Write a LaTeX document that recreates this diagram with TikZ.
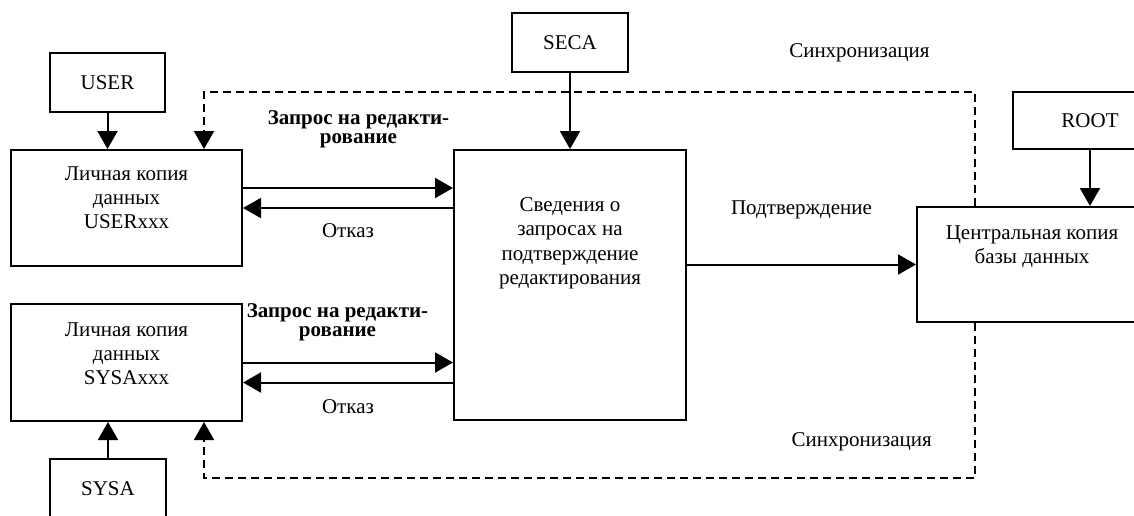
\documentclass[tikz,border=0pt]{standalone}
\usepackage{fontspec}
\setmainfont{Liberation Serif}
\usetikzlibrary{positioning}
\usetikzlibrary{arrows.meta,arrows}

\begin{document}
\begin{tikzpicture}
[x=0.5pt, y=-0.5pt,
box/.style ={rectangle, draw, line width=1pt, inner sep=0pt,
font=\fontsize{10.5}{12.5}\selectfont},
boxtext/.style ={align=center, inner sep=0pt,
font=\fontsize{10.5}{12.2}\selectfont},
lbl/.style ={font=\fontsize{10.5}{12.5}\selectfont},
reqlbl/.style ={align=center, font=\bfseries\fontsize{10.5}{9.5}\selectfont},
line/.style ={draw, line width=1pt, -{Triangle[length=9pt,width=10pt]}},
syncline/.style ={dash pattern=on 4pt off 2.5pt}]
\clip (0,0) rectangle (1134,515);
% small boxes: who works with the data
\node [box, minimum width=57.5pt, minimum height=29.5pt] (user) at (107.5,82.5) {USER};
\node [box, minimum width=58pt, minimum height=29.5pt] (seca) at (570,42.5) {SECA};
\node [box, minimum width=77pt, minimum height=28.5pt] (root) at (1090,120.5) {ROOT};
\node [box, minimum width=58pt, minimum height=29.5pt] (sysa) at (108,488.5) {SYSA};
% big boxes, text sits in the upper part
\node [box, minimum width=115.5pt, minimum height=58pt] (ucopy) at (126.5,208) {};
\node [boxtext, below=8.5pt of ucopy.north] (ucopytxt) {Личная копия\\данных\\USERxxx};
\node [box, minimum width=115.5pt, minimum height=58.5pt] (scopy) at (126.5,362.5) {};
\node [boxtext, below=9.5pt of scopy.north] (scopytxt) {Личная копия\\данных\\SYSAxxx};
\node [box, minimum width=116pt, minimum height=135pt] (req) at (570,285) {};
\node [boxtext, below=24pt of req.north] (reqtxt) {Сведения о\\запросах на\\подтверждение\\редактирования};
\node [box, minimum width=115pt, minimum height=57.5pt] (cdb) at (1032,264.5) {};
\node [boxtext, below=9.5pt of cdb.north] (cdbtxt) {Центральная копия\\базы данных};
% corners of the sync lines
\coordinate (synctopR) at (975,92);
\coordinate (synctopL) at (204,92);
\coordinate (syncbotR) at (975,478);
\coordinate (syncbotL) at (204,478);
\coordinate (ureq) at ([yshift=10pt]ucopy.east);
\coordinate (sref) at ([yshift=-10pt]scopy.east);
\begin{scope}[every path/.style=line]
\path (user) -- (user |- ucopy.north);
\path (sysa) -- (sysa |- scopy.south);
\path (seca) -- (req);
\path (root) -- (root |- cdb.north);
\path (ureq) -- node [reqlbl, above=16pt, pos=0.55] {Запрос на редакти-\\рование} (ureq -| req.west);
\path (ucopy.east -| req.west) -- node [lbl, below=4pt] {Отказ} (ucopy.east);
\path (scopy.east) -- node [reqlbl, above=7pt, pos=0.45] {Запрос на редакти-\\рование} (scopy.east -| req.west);
\path (sref -| req.west) -- node [lbl, below=4.5pt] {Отказ} (sref);
\path (cdb.west -| req.east) -- node [lbl, above=19pt] {Подтверждение} (cdb.west);
\path [syncline] (cdb.north -| synctopR) -- (synctopR) -- node [lbl, above=11pt, pos=0.15] {Синхронизация} (synctopL) -- (synctopL |- ucopy.north);
\path [syncline] (cdb.south -| syncbotR) -- (syncbotR) -- node [lbl, above=9.5pt, pos=0.147] {Синхронизация} (syncbotL) -- (syncbotL |- scopy.south);
\end{scope}
\end{tikzpicture}
\end{document}
